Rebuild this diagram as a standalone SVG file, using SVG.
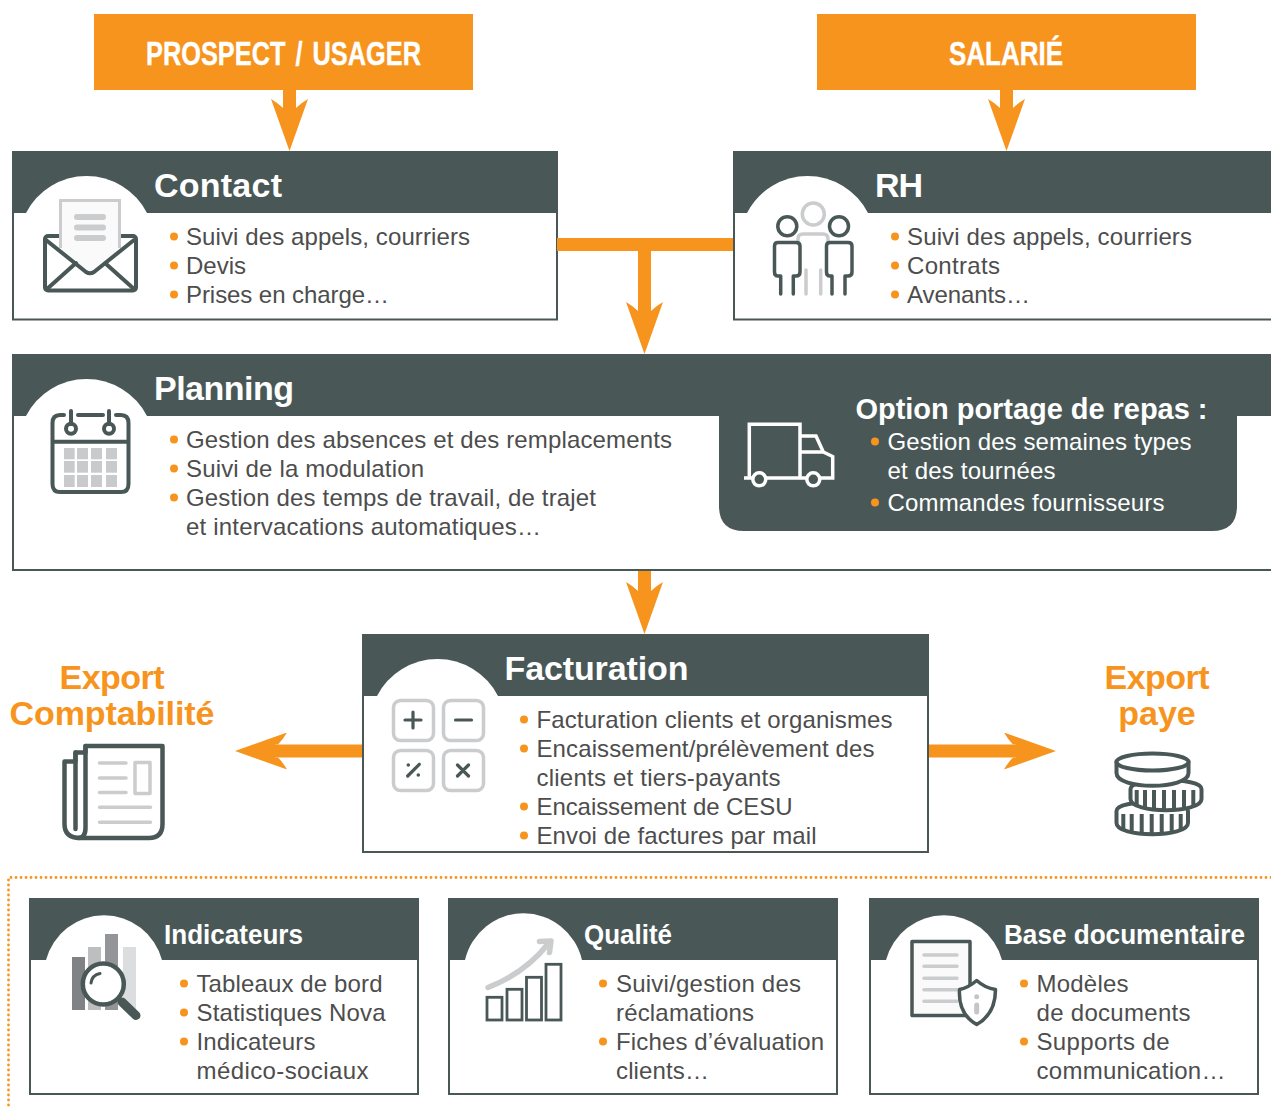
<svg xmlns="http://www.w3.org/2000/svg" width="1271" height="1108" viewBox="0 0 1271 1108">
<style>
text{font-family:"Liberation Sans",Arial,sans-serif}
.t{font-size:24px;fill:#4d4d4d}
.o{font-size:24px;fill:#fff}
.h{font-size:34px;font-weight:700;fill:#fff}
.s{font-size:28px;font-weight:700;fill:#fff}
.e{font-size:34px;font-weight:700;fill:#f7941e;text-anchor:middle}
.b{fill:#f7941e}
.hd{fill:#495857}
.bd{fill:#fff;stroke:#495857;stroke-width:2}
.w{fill:#fff}
.d{fill:none;stroke:#495857;stroke-width:4;stroke-linecap:round;stroke-linejoin:round}
.p{fill:none;stroke:#495857;stroke-width:3.500;stroke-linecap:round;stroke-linejoin:round}
.g{fill:none;stroke:#cbcccd;stroke-width:3.500;stroke-linecap:round;stroke-linejoin:round}
.cell{fill:#c9cacc}
.a{stroke:#f7941e;stroke-width:13;fill:none}
</style>
<defs>
<marker id="head" markerUnits="userSpaceOnUse" markerWidth="52" markerHeight="37" refX="12" refY="18.5" orient="auto" viewBox="0 0 52 37">
<path d="M0,0Q4,7 9,12H12V25H9Q4,30 0,37L52,18.5Z" fill="#f7941e"/>
</marker>
</defs>

<g id="frame"><path d="M1271,877.500H8.500V1108" fill="none" stroke="#f7941e" stroke-width="2.800" stroke-linecap="round" stroke-dasharray="0 5"/></g>

<g id="prospect"><rect class="b" x="94" y="14" width="379" height="76"/><text x="146" y="65" font-size="34" font-weight="700" fill="#fff" stroke="#fff" stroke-width="0.400" word-spacing="4" textLength="275" lengthAdjust="spacingAndGlyphs">PROSPECT / USAGER</text></g>
<g id="salarie"><rect class="b" x="817" y="14" width="379" height="76"/><text x="949" y="65" font-size="34" font-weight="700" fill="#fff" stroke="#fff" stroke-width="0.400" textLength="114" lengthAdjust="spacingAndGlyphs">SALARIÉ</text></g>

<g id="contact">
<rect class="bd" x="13" y="152" width="544" height="167.500"/>
<rect class="hd" x="12" y="151" width="546" height="62"/>
<path class="w" d="M26,213A68,68 0 0 1 147,213Z"/>
<text class="h" x="154" y="197" textLength="128">Contact</text>
<rect class="d" x="45" y="236" width="91" height="54.500" rx="3"/>
<path d="M60.500,200.500H119.500V250L90,272L60.500,250Z" fill="#fafafa"/>
<path d="M60.500,248V200.500H119.500V248" fill="none" stroke="#cbcccd" stroke-width="3"/>
<path d="M77,217H103M77,227.500H103M77,238H103" fill="none" stroke="#cbcccd" stroke-width="6" stroke-linecap="round"/>
<path class="d" d="M46,240L86,272Q90,274.500 94,272L134,240M47,289L76,263M134,289L105,263"/>
<circle class="b" cx="174" cy="236.500" r="4"/><text class="t" x="186" y="245" textLength="284">Suivi des appels, courriers</text>
<circle class="b" cx="174" cy="265.500" r="4"/><text class="t" x="186" y="274" textLength="60">Devis</text>
<circle class="b" cx="174" cy="294.500" r="4"/><text class="t" x="186" y="303" textLength="203">Prises en charge…</text>
</g>

<g id="rh">
<rect class="bd" x="734" y="152" width="560" height="167.500"/>
<rect class="hd" x="733" y="151" width="538" height="62"/>
<path class="w" d="M747,213A68,68 0 0 1 868,213Z"/>
<text class="h" x="875" y="197" textLength="48">RH</text>
<circle class="g" cx="813.300" cy="214" r="11"/>
<path class="g" d="M798,242V239Q798,234 803,234H823Q828,234 828,239V242M806,270V294M820.700,270V294"/>
<circle class="p" cx="787.300" cy="226.300" r="9.500"/>
<circle class="p" cx="839" cy="226.300" r="9.500"/>
<path class="p" d="M780.700,294V276H778Q774.500,276 774.500,272V246Q774.500,242.500 778,242.500H796Q800,242.500 800,246V272Q800,276 796,276H793.300V294"/>
<path class="p" d="M832,294V276H830Q826.500,276 826.500,272V246Q826.500,242.500 830,242.500H848Q852,242.500 852,246V272Q852,276 848,276H845V294"/>
<circle class="b" cx="895" cy="236.500" r="4"/><text class="t" x="907" y="245" textLength="285">Suivi des appels, courriers</text>
<circle class="b" cx="895" cy="265.500" r="4"/><text class="t" x="907" y="274" textLength="93">Contrats</text>
<circle class="b" cx="895" cy="294.500" r="4"/><text class="t" x="907" y="303" textLength="123">Avenants…</text>
</g>

<g id="planning">
<rect class="bd" x="13" y="355" width="1280" height="215"/>
<rect class="hd" x="12" y="354" width="1259" height="62"/>
<path class="w" d="M26,416A68,68 0 0 1 147,416Z"/>
<text class="h" x="154" y="400" textLength="140">Planning</text>
<path class="d" d="M64,415H60Q52.500,415 52.500,423V484Q52.500,492 60,492H121Q128.500,492 128.500,484V423Q128.500,415 121,415H116M78,415H103M71,411V424M109,411V424M52.500,441.700H128.500"/>
<circle class="d" cx="71" cy="428.700" r="5"/><circle class="d" cx="109" cy="428.700" r="5"/>
<g class="cell">
<rect x="64" y="448" width="10.700" height="11.300"/><rect x="77" y="448" width="11" height="11.300"/><rect x="91" y="448" width="11" height="11.300"/><rect x="106" y="448" width="11" height="11.300"/>
<rect x="64" y="461" width="10.700" height="11.700"/><rect x="77" y="461" width="11" height="11.700"/><rect x="91" y="461" width="11" height="11.700"/><rect x="106" y="461" width="11" height="11.700"/>
<rect x="64" y="475" width="10.700" height="12"/><rect x="77" y="475" width="11" height="12"/><rect x="91" y="475" width="11" height="12"/><rect x="106" y="475" width="11" height="12"/>
</g>
<circle class="b" cx="174" cy="439.500" r="4"/><text class="t" x="186" y="448" textLength="486">Gestion des absences et des remplacements</text>
<circle class="b" cx="174" cy="468.500" r="4"/><text class="t" x="186" y="477" textLength="238">Suivi de la modulation</text>
<circle class="b" cx="174" cy="497.500" r="4"/><text class="t" x="186" y="506" textLength="410">Gestion des temps de travail, de trajet</text>
<text class="t" x="186" y="535" textLength="355">et intervacations automatiques…</text>
<path class="hd" d="M719,416H1237V506Q1237,531 1212,531H744Q719,531 719,506Z"/>
<g fill="none" stroke="#fff" stroke-width="3.500">
<path d="M749.300,478V424.300H800V478M800,436H816L823.300,452L832.700,456.500V478H820M807,478H766M753,478H744M800,452H823.300"/>
<circle cx="759.300" cy="479.300" r="6.500"/><circle cx="813.300" cy="479.300" r="6.500"/>
</g>
<text x="855.500" y="419" font-size="29" font-weight="700" fill="#fff" textLength="352">Option portage de repas :</text>
<circle class="b" cx="875" cy="441.500" r="4"/><text class="o" x="887.500" y="450" textLength="304">Gestion des semaines types</text>
<text class="o" x="887.500" y="479" textLength="168">et des tournées</text>
<circle class="b" cx="875" cy="502.500" r="4"/><text class="o" x="887.500" y="511" textLength="277">Commandes fournisseurs</text>
</g>

<g id="facturation">
<rect class="bd" x="363" y="635" width="565" height="217"/>
<rect class="hd" x="362" y="634" width="567" height="62"/>
<path class="w" d="M377,696A68,68 0 0 1 498,696Z"/>
<text class="h" x="504.500" y="680" textLength="184">Facturation</text>
<g class="g"><rect x="393.500" y="700.500" width="40" height="40" rx="7"/><rect x="443.500" y="700.500" width="40" height="40" rx="7"/><rect x="393.500" y="750.500" width="40" height="40" rx="7"/><rect x="443.500" y="750.500" width="40" height="40" rx="7"/></g>
<path d="M405,720H421M413,712V728M455.500,720H471.500M407.700,776L419.300,764.300M457.500,765L468.500,776M468.500,765L457.500,776" fill="none" stroke="#495857" stroke-width="3.200" stroke-linecap="round"/>
<circle class="hd" cx="408.300" cy="765" r="1.800"/><circle class="hd" cx="418.300" cy="775" r="1.800"/>
<circle class="b" cx="524" cy="719.500" r="4"/><text class="t" x="536.500" y="728" textLength="356">Facturation clients et organismes</text>
<circle class="b" cx="524" cy="748.500" r="4"/><text class="t" x="536.500" y="757" textLength="338">Encaissement/prélèvement des</text>
<text class="t" x="536.500" y="786" textLength="244">clients et tiers-payants</text>
<circle class="b" cx="524" cy="806.500" r="4"/><text class="t" x="536.500" y="815" textLength="256">Encaissement de CESU</text>
<circle class="b" cx="524" cy="835.500" r="4"/><text class="t" x="536.500" y="844" textLength="280">Envoi de factures par mail</text>
</g>

<g id="export-compta">
<text class="e" x="112" y="689" textLength="105">Export</text>
<text class="e" x="112" y="725" textLength="205">Comptabilité</text>
<path d="M85.500,746H162.500V824Q162.500,838 149,838H80Q64.500,838 64.500,824V761.500H75.500V752.500H85.500Z" fill="#fff" stroke="#495857" stroke-width="4.500" stroke-linejoin="round"/>
<path d="M85.500,746V828Q85.500,838 78,838M75.500,752.500V829" fill="none" stroke="#495857" stroke-width="4.500" stroke-linecap="round"/>
<path class="g" d="M99.500,763H126M99.500,778H126M99.500,792.500H126M99.500,807.300H150.500M99.500,822.300H150.500M135,762.500H150V793.500H135Z"/>
</g>

<g id="export-paye">
<text class="e" x="1157" y="689" textLength="105">Export</text>
<text class="e" x="1157" y="725">paye</text>
<g fill="#fff" stroke="#495857" stroke-width="4" stroke-linejoin="round">
<path d="M1116.500,811C1116.500,799 1188,799 1188,811V823C1188,838 1116.500,838 1116.500,823Z"/>
<path d="M1123.300,814V830M1131.700,814V832M1141.700,814V833M1151.700,814V833M1161.700,814V833M1171.700,814V832M1180.700,814V830"/>
<path d="M1130.500,789C1130.500,777 1201.500,777 1201.500,789V799C1201.500,814 1130.500,814 1130.500,799Z"/>
<path d="M1136.700,790V806M1145,790V808M1154,790V809M1164,790V809M1174,790V809M1184,790V808M1193.300,790V806"/>
<path d="M1116.500,762V773C1116.500,790 1188.500,790 1188.500,773V762Z"/>
<ellipse cx="1152.500" cy="762" rx="36" ry="8.500"/>
</g>
</g>

<g id="connectors">
<line class="a" x1="289.500" y1="90" x2="289.500" y2="111" marker-end="url(#head)"/>
<line class="a" x1="1006.500" y1="90" x2="1006.500" y2="111" marker-end="url(#head)"/>
<line class="a" x1="557" y1="244.500" x2="733" y2="244.500"/>
<line class="a" x1="644.500" y1="244.500" x2="644.500" y2="314" marker-end="url(#head)"/>
<line class="a" x1="644.500" y1="571" x2="644.500" y2="594" marker-end="url(#head)"/>
<line class="a" x1="362" y1="751" x2="275" y2="751" marker-end="url(#head)"/>
<line class="a" x1="929" y1="751" x2="1016" y2="751" marker-end="url(#head)"/>
</g>

<g id="indicateurs">
<rect class="bd" x="30" y="899" width="388" height="195"/>
<rect class="hd" x="29" y="898" width="390" height="62"/>
<path class="w" d="M46,960A60,60 0 0 1 162,960Z"/>
<text class="s" x="164" y="944" textLength="139" lengthAdjust="spacingAndGlyphs">Indicateurs</text>
<rect x="72" y="957" width="13" height="53" fill="#808285"/><rect x="88" y="947" width="13" height="63" fill="#bcbec0"/><rect x="105" y="934" width="13" height="76" fill="#939598"/><rect x="123" y="947" width="13" height="63" fill="#dcddde"/>
<path d="M122,1002L136,1015.500" stroke="#495857" stroke-width="9" stroke-linecap="round" fill="none"/>
<circle cx="103.300" cy="984" r="20.500" fill="#fff" stroke="#495857" stroke-width="4.500"/>
<path d="M91,983Q92,975 100,973.500" fill="none" stroke="#495857" stroke-width="3" stroke-linecap="round"/>
<circle class="b" cx="184" cy="983.500" r="4"/><text class="t" x="196.500" y="992" textLength="186">Tableaux de bord</text>
<circle class="b" cx="184" cy="1012.500" r="4"/><text class="t" x="196.500" y="1021" textLength="189">Statistiques Nova</text>
<circle class="b" cx="184" cy="1041.500" r="4"/><text class="t" x="196.500" y="1050" textLength="119">Indicateurs</text>
<text class="t" x="196.500" y="1079" textLength="172">médico-sociaux</text>
</g>

<g id="qualite">
<rect class="bd" x="449" y="899" width="388" height="195"/>
<rect class="hd" x="448" y="898" width="390" height="62"/>
<path class="w" d="M465,960A60,60 0 0 1 582,960Z"/>
<text class="s" x="584" y="944" textLength="88" lengthAdjust="spacingAndGlyphs">Qualité</text>
<path d="M488,987.500Q525,973 548,944" fill="none" stroke="#cbcccd" stroke-width="5.500" stroke-linecap="round"/>
<path d="M539.500,941.500L551,941L549.500,952.500" fill="none" stroke="#cbcccd" stroke-width="5.500" stroke-linecap="round" stroke-linejoin="round"/>
<g fill="none" stroke="#495857" stroke-width="2.800"><rect x="487" y="997.300" width="15" height="22.700"/><rect x="507" y="989.300" width="15" height="30.700"/><rect x="526.500" y="977.300" width="15" height="42.700"/><rect x="546" y="964.300" width="15" height="55.700"/></g>
<circle class="b" cx="603" cy="983.500" r="4"/><text class="t" x="616" y="992" textLength="185">Suivi/gestion des</text>
<text class="t" x="616" y="1021" textLength="138">réclamations</text>
<circle class="b" cx="603" cy="1041.500" r="4"/><text class="t" x="616" y="1050" textLength="208">Fiches d’évaluation</text>
<text class="t" x="616" y="1079" textLength="93">clients…</text>
</g>

<g id="base-documentaire">
<rect class="bd" x="870" y="899" width="388" height="195"/>
<rect class="hd" x="869" y="898" width="390" height="62"/>
<path class="w" d="M886,960A60,60 0 0 1 1002,960Z"/>
<text class="s" x="1004" y="944" textLength="241" lengthAdjust="spacingAndGlyphs">Base documentaire</text>
<rect x="912" y="941.500" width="58" height="74" fill="#fafafa" stroke="#495857" stroke-width="3.500" stroke-linejoin="round"/>
<path d="M924,955H957M924,966.300H957M924,978.300H957M924,989.700H957M924,1001.300H957" fill="none" stroke="#cbcccd" stroke-width="3.500" stroke-linecap="round"/>
<path d="M976.700,980.500Q968,988 959.500,989.500Q958,1014 976.700,1024.500Q995.500,1014 995.500,989.500Q985,988 976.700,980.500Z" fill="#fff" stroke="#495857" stroke-width="3.500" stroke-linejoin="round"/>
<circle cx="976.700" cy="996.700" r="2.500" fill="#c4c5c7"/>
<path d="M976.700,1005V1012" stroke="#c4c5c7" stroke-width="5" stroke-linecap="round"/>
<circle class="b" cx="1024" cy="983.500" r="4"/><text class="t" x="1036.500" y="992" textLength="92">Modèles</text>
<text class="t" x="1036.500" y="1021" textLength="154">de documents</text>
<circle class="b" cx="1024" cy="1041.500" r="4"/><text class="t" x="1036.500" y="1050" textLength="133">Supports de</text>
<text class="t" x="1036.500" y="1079" textLength="189">communication…</text>
</g>
</svg>
